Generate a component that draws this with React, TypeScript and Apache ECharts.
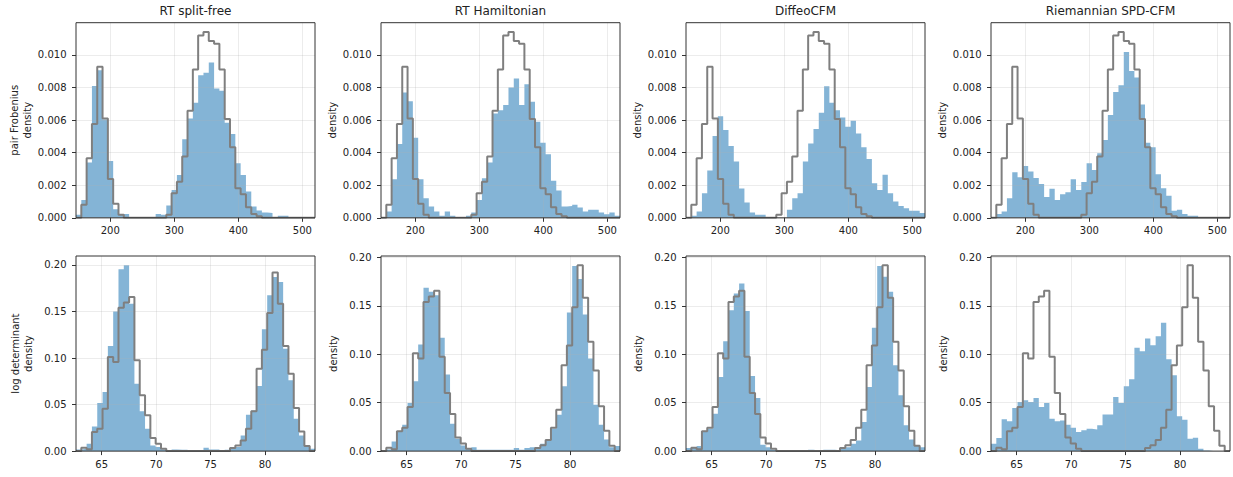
import React, { useEffect, useRef } from "react";
import * as echarts from "echarts";

const TITLES = ["RT split-free", "RT Hamiltonian", "DiffeoCFM", "Riemannian SPD-CFM"];
const ROW_YLABELS = ["pair Frobenius\ndensity", "log determinant\ndensity"];

const BIN_COUNT = 45;
const FROB_XRANGE = [146.4, 519.8];
const LOGDET_XRANGE = [62.64, 84.59];
const FROB_XTICKS = [200, 300, 400, 500];
const LOGDET_XTICKS = [65, 70, 75, 80];
const FROB_YTICKS = [0, 0.002, 0.004, 0.006, 0.008, 0.01];
const LOGDET_YTICKS = [0, 0.05, 0.1, 0.15, 0.2];

// reference (outlined step histogram), pair Frobenius
const FROB_REF = [
  0, 0.0008, 0.00365, 0.00576, 0.00927, 0.0061, 0.00239, 0.00086, 0.00018, 0,
  0, 0, 0, 0, 0, 0, 0, 0.00018, 0.00151, 0.00222,
  0.00376, 0.00657, 0.0091, 0.0112, 0.01141, 0.01086, 0.01069, 0.0091, 0.00606, 0.00433,
  0.00182, 0.00145, 0.00065, 0.00024, 0.0001, 0, 0, 0, 0, 0,
  0, 0, 0, 0, 0,
];
const FROB_RT_SPLIT = [
  0.00018, 0.0011, 0.00339, 0.0081, 0.00906, 0.00604, 0.00349, 0.00053, 0.00024, 0.00024,
  0, 0, 0, 0, 0, 0.00024, 0.00018, 0.00076, 0.00171, 0.00263,
  0.00482, 0.0061, 0.00706, 0.00876, 0.0089, 0.00953, 0.00794, 0.0078, 0.00584, 0.00514,
  0.00335, 0.00263, 0.00161, 0.00069, 0.00045, 0.00033, 0.00029, 0, 0.00012, 0.00012,
  0, 0, 0, 0, 0,
];
const FROB_RT_HAM = [
  0, 0.00039, 0.00237, 0.00453, 0.00769, 0.00716, 0.00492, 0.00237, 0.0012, 0.00069,
  0.00039, 0.00012, 0.00039, 0.00012, 0, 0, 0.00012, 0.00033, 0.0011, 0.00243,
  0.00339, 0.0064, 0.00661, 0.00692, 0.008, 0.00855, 0.00692, 0.0082, 0.00712, 0.0059,
  0.00461, 0.0039, 0.00227, 0.00167, 0.00069, 0.00073, 0.0008, 0.00063, 0.00039, 0.00049,
  0.00049, 0.00033, 0.00022, 0.00033, 0.00012,
];
const FROB_DIFFEO = [
  0, 0.00012, 0.00039, 0.00151, 0.0029, 0.00502, 0.00624, 0.00539, 0.00441, 0.00345,
  0.0018, 0.00094, 0.00033, 0.00018, 0.00018, 0, 0, 0, 0, 0.00049,
  0.0012, 0.00151, 0.00345, 0.00457, 0.00545, 0.00645, 0.00808, 0.00706, 0.00661, 0.00616,
  0.00559, 0.00596, 0.00518, 0.00433, 0.00361, 0.00212, 0.00171, 0.00265, 0.00151, 0.001,
  0.00073, 0.00059, 0.00043, 0.00043, 0.0003,
];
const FROB_SPD = [
  0, 0.00024, 0.00039, 0.0012, 0.0028, 0.00249, 0.00318, 0.00284, 0.00245, 0.00208,
  0.00127, 0.00178, 0.0011, 0.00145, 0.00157, 0.00237, 0.00171, 0.0022, 0.00335, 0.00294,
  0.00396, 0.00478, 0.00631, 0.00773, 0.00814, 0.01018, 0.00902, 0.00861, 0.00696, 0.00461,
  0.00433, 0.00267, 0.00182, 0.00135, 0.00043, 0.00049, 0.00024, 0.00012, 0.00012, 0,
  0, 0, 0, 0, 0,
];

// reference (outlined step histogram), log determinant
const LOGDET_REF = [
  0, 0.0035, 0.002, 0.0204, 0.024, 0.0455, 0.101, 0.0957, 0.154, 0.1595,
  0.1656, 0.0975, 0.0599, 0.0384, 0.014, 0.0079, 0.0025, 0, 0, 0,
  0, 0, 0, 0, 0, 0, 0, 0, 0, 0.0032,
  0.006, 0.0115, 0.024, 0.0427, 0.0885, 0.109, 0.1484, 0.1918, 0.1584, 0.1129,
  0.0832, 0.0462, 0.0211, 0.0054, 0,
];
const LOGDET_RT_SPLIT = [
  0.0018, 0.0025, 0.0079, 0.0265, 0.0516, 0.0634, 0.1129, 0.15, 0.1953, 0.1996,
  0.1584, 0.0724, 0.0427, 0.024, 0.0061, 0.0043, 0.0018, 0, 0.0018, 0.0015,
  0.0015, 0, 0, 0, 0.0036, 0.0018, 0.0018, 0, 0.0014, 0.0043,
  0.0043, 0.0168, 0.039, 0.0437, 0.0699, 0.1308, 0.1674, 0.1871, 0.1817, 0.11,
  0.076, 0.0348, 0.0168, 0.0054, 0.0025,
];
const LOGDET_RT_HAM = [
  0.0007, 0.0017, 0.01, 0.0197, 0.0272, 0.0497, 0.072, 0.11, 0.1686, 0.1645,
  0.161, 0.1169, 0.079, 0.0283, 0.0128, 0.0059, 0.0031, 0.0041, 0.0014, 0.0014,
  0.0014, 0.0014, 0.0014, 0.0014, 0.0014, 0.0031, 0.0014, 0.0031, 0.0041, 0.0034,
  0.0076, 0.011, 0.0231, 0.0376, 0.0669, 0.1431, 0.191, 0.1776, 0.141, 0.0955,
  0.0479, 0.0272, 0.0121, 0.0041, 0.0052,
];
const LOGDET_DIFFEO = [
  0.0031, 0.0031, 0.0052, 0.0203, 0.0231, 0.0386, 0.0766, 0.1134, 0.1455, 0.1628,
  0.1731, 0.1445, 0.0776, 0.0548, 0.0066, 0.0041, 0.0014, 0, 0, 0,
  0, 0, 0, 0.0014, 0.0007, 0.0014, 0.0014, 0.0014, 0.001, 0.0024,
  0.0041, 0.0076, 0.011, 0.03, 0.0662, 0.1272, 0.191, 0.18, 0.1645, 0.0886,
  0.0576, 0.0266, 0.0121, 0.0059, 0.0041,
];
const LOGDET_SPD = [
  0.0076, 0.0134, 0.0328, 0.0307, 0.0445, 0.0507, 0.0524, 0.0507, 0.0548, 0.0455,
  0.0497, 0.0334, 0.0307, 0.0317, 0.0272, 0.0241, 0.0197, 0.0214, 0.0231, 0.0224,
  0.0266, 0.0379, 0.0379, 0.0559, 0.0497, 0.0669, 0.0741, 0.1066, 0.1031, 0.1162,
  0.1093, 0.1186, 0.1324, 0.0948, 0.0783, 0.0359, 0.0324, 0.0128, 0.0138, 0.0024,
  0.0007, 0, 0, 0, 0,
];

const FROB_MODELS = [FROB_RT_SPLIT, FROB_RT_HAM, FROB_DIFFEO, FROB_SPD];
const LOGDET_MODELS = [LOGDET_RT_SPLIT, LOGDET_RT_HAM, LOGDET_DIFFEO, LOGDET_SPD];

const ROWS = [
  { ref: FROB_REF, models: FROB_MODELS, xr: FROB_XRANGE, xt: FROB_XTICKS, yt: FROB_YTICKS, yDec: 3 },
  { ref: LOGDET_REF, models: LOGDET_MODELS, xr: LOGDET_XRANGE, xt: LOGDET_XTICKS, yt: LOGDET_YTICKS, yDec: 2 },
];

// layout
const COL_LEFT = [76, 381, 686, 991];
const PANEL_W = 239;
const ROW_TOP = [22.7, 256];
const PANEL_H = 195.1;
const FONT = "DejaVu Sans";
const TEXT = "#222";
const SPINE = "#333";

function binEdges(range: number[]) {
  const out: number[] = [];
  for (let i = 0; i <= BIN_COUNT; i++) out.push(range[0] + ((range[1] - range[0]) * i) / BIN_COUNT);
  return out;
}

function stepData(vals: number[], e: number[]) {
  const pts: number[][] = [[e[0], 0]];
  vals.forEach((v, i) => pts.push([e[i], v]));
  pts.push([e[vals.length], vals[vals.length - 1]]);
  pts.push([e[vals.length], 0]);
  return pts;
}

function buildOption() {
  const grid: any[] = [];
  const xAxis: any[] = [];
  const yAxis: any[] = [];
  const series: any[] = [];
  const graphic: any[] = [];

  TITLES.forEach((t, c) => {
    graphic.push({
      type: "text",
      x: COL_LEFT[c] + PANEL_W / 2,
      y: 11,
      silent: true,
      style: {
        text: t,
        fontSize: 12,
        fontFamily: FONT,
        fill: TEXT,
        align: "center",
        verticalAlign: "middle",
      },
    });
  });

  ROWS.forEach((row, r) => {
    const e = binEdges(row.xr);
    row.models.forEach((model, c) => {
      const idx = r * 4 + c;
      const ymax = 1.05 * Math.max(...model, ...row.ref);
      grid.push({
        left: COL_LEFT[c],
        top: ROW_TOP[r],
        width: PANEL_W,
        height: PANEL_H,
        show: true,
        borderColor: SPINE,
        borderWidth: 1,
        backgroundColor: "rgba(0,0,0,0)",
        z: 10,
      });
      xAxis.push({
        gridIndex: idx,
        type: "value",
        min: row.xr[0],
        max: row.xr[1],
        z: 3,
        axisLine: { show: false },
        axisTick: { show: true, length: 4, customValues: row.xt, lineStyle: { color: SPINE, width: 1 } },
        axisLabel: {
          customValues: row.xt,
          formatter: (v: number) => String(Math.round(v)),
          margin: 8,
          fontSize: 10,
          fontFamily: FONT,
          color: TEXT,
        },
        splitLine: { show: true, lineStyle: { color: "rgba(176,176,176,0.3)", width: 0.8 } },
      });
      yAxis.push({
        gridIndex: idx,
        type: "value",
        min: 0,
        max: ymax,
        z: 3,
        name: c === 0 ? ROW_YLABELS[r] : "density",
        nameLocation: "middle",
        nameGap: 41,
        nameTextStyle: { fontSize: 10, fontFamily: FONT, color: TEXT, lineHeight: 13 },
        axisLine: { show: false },
        axisTick: { show: true, length: 4, customValues: row.yt, lineStyle: { color: SPINE, width: 1 } },
        axisLabel: {
          customValues: row.yt,
          formatter: (v: number) => v.toFixed(row.yDec),
          margin: 9.5,
          fontSize: 10,
          fontFamily: FONT,
          color: TEXT,
        },
        splitLine: { show: true, lineStyle: { color: "rgba(176,176,176,0.3)", width: 0.8 } },
      });
      series.push({
        type: "line",
        xAxisIndex: idx,
        yAxisIndex: idx,
        data: stepData(model, e),
        step: "end",
        symbol: "none",
        silent: true,
        z: 2,
        lineStyle: { width: 0, opacity: 0 },
        areaStyle: { color: "#1f77b4", opacity: 0.55 },
      });
      series.push({
        type: "line",
        xAxisIndex: idx,
        yAxisIndex: idx,
        data: stepData(row.ref, e),
        step: "end",
        symbol: "none",
        silent: true,
        z: 4,
        lineStyle: { color: "#7f7f7f", width: 2 },
      });
    });
  });

  return {
    animation: false,
    backgroundColor: "#ffffff",
    textStyle: { fontFamily: FONT },
    grid,
    xAxis,
    yAxis,
    series,
    graphic,
  };
}

export default function App() {
  const ref = useRef<HTMLDivElement>(null);
  useEffect(() => {
    if (!ref.current) return;
    const chart = echarts.init(ref.current, undefined, { renderer: "svg" });
    chart.setOption(buildOption() as any);
    return () => chart.dispose();
  }, []);
  return (
    <div
      ref={ref}
      style={{ position: "fixed", left: 0, top: 0, width: 1233, height: 477, background: "#fff" }}
    />
  );
}
